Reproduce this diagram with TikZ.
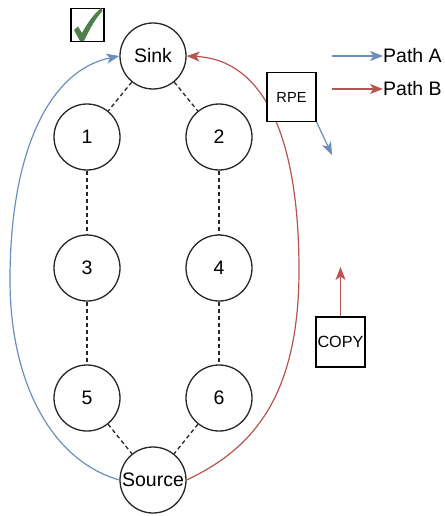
\documentclass[tikz,border=0pt]{standalone}
\usepackage{fontspec}
\setmainfont{Liberation Sans}
\usetikzlibrary{arrows.meta}
\definecolor{pathblue}{HTML}{6C8EBF}
\definecolor{pathred}{HTML}{B85450}
\definecolor{checkgreen}{HTML}{4F7F4A}
\tikzset{
  station/.style={circle, draw=black!85, line width=1.3pt, fill=white, minimum size=66pt, inner sep=0pt, font=\fontsize{19.5}{22}\selectfont},
  boxnode/.style={rectangle, draw=black, line width=1.3pt, fill=white, minimum width=49pt, minimum height=49pt, inner sep=0pt},
  link/.style={draw=black!85, line width=1.3pt, dash pattern=on 4pt off 3pt},
  tip/.style={-{Stealth[length=13pt,width=10pt,inset=3.5pt]}},
  bluepath/.style={tip, draw=pathblue, line width=1.2pt},
  redpath/.style={tip, draw=pathred, line width=1.2pt},
  legendtext/.style={anchor=west, inner sep=0pt, font=\fontsize{19.5}{22}\selectfont}
}
\begin{document}
\begin{tikzpicture}[x=1pt, y=-1pt]
  \useasboundingbox (0,0) rectangle (444,516);

  % ring of stations
  \node[station] (sink)   at (153,56)  {Sink};
  \node[station] (n1)     at (87,137)  {1};
  \node[station] (n2)     at (219,137) {2};
  \node[station] (n3)     at (87,268)  {3};
  \node[station] (n4)     at (219,268) {4};
  \node[station] (n5)     at (87,398)  {5};
  \node[station] (n6)     at (219,398) {6};
  \node[station] (source) at (153,480) {Source};

  % dashed links between stations
  \draw[link] (sink) -- (n1);
  \draw[link] (sink) -- (n2);
  \draw[link] (n1) -- (n3);
  \draw[link] (n3) -- (n5);
  \draw[link] (n2) -- (n4);
  \draw[link] (n4) -- (n6);
  \draw[link] (n5) -- (source);
  \draw[link] (n6) -- (source);

  % path A (left) and path B (right)
  \draw[bluepath] (source.west) .. controls (50,460) and (10,380) .. (10,280)
                                .. controls (10,150) and (50,70) .. (sink.west);
  \draw[redpath] (source.east) .. controls (250,450) and (299,400) .. (299,270)
                               .. controls (299,150) and (270,60) .. (sink.east);

  % RPE and COPY boxes
  \node[boxnode, font=\fontsize{14.6}{17}\selectfont] (rpe) at (291.5,97) {RPE};
  \coordinate (rpetip) at (332,155);
  \draw[bluepath] (rpe.south east) -- (rpetip);

  \node[boxnode, minimum height=50pt, font=\fontsize{16.2}{18}\selectfont] (copy) at (340.5,342) {COPY};
  \coordinate (copytip) at (340.5,267);
  \draw[redpath] (copy.north) -- (copytip);

  % legend
  \node[legendtext] (pa) at (383,56) {Path A};
  \node[legendtext] (pb) at (383,89) {Path B};
  \coordinate (pastart) at (332,56);
  \coordinate (pbstart) at (332,89);
  \draw[bluepath] (pastart) -- (pa.west);
  \draw[redpath] (pbstart) -- (pb.west);

  % check box with tick
  \node[rectangle, draw=black, line width=1.4pt, minimum size=33pt, inner sep=0pt] (chk) at (87.5,25) {};
  \fill[checkgreen] (74,30) -- (78,26.5) -- (82,33)
        .. controls (88,22) and (94,14) .. (101,8) -- (102.5,11)
        .. controls (96,18) and (90,28) .. (84,41) -- (80,41) -- cycle;
\end{tikzpicture}
\end{document}
